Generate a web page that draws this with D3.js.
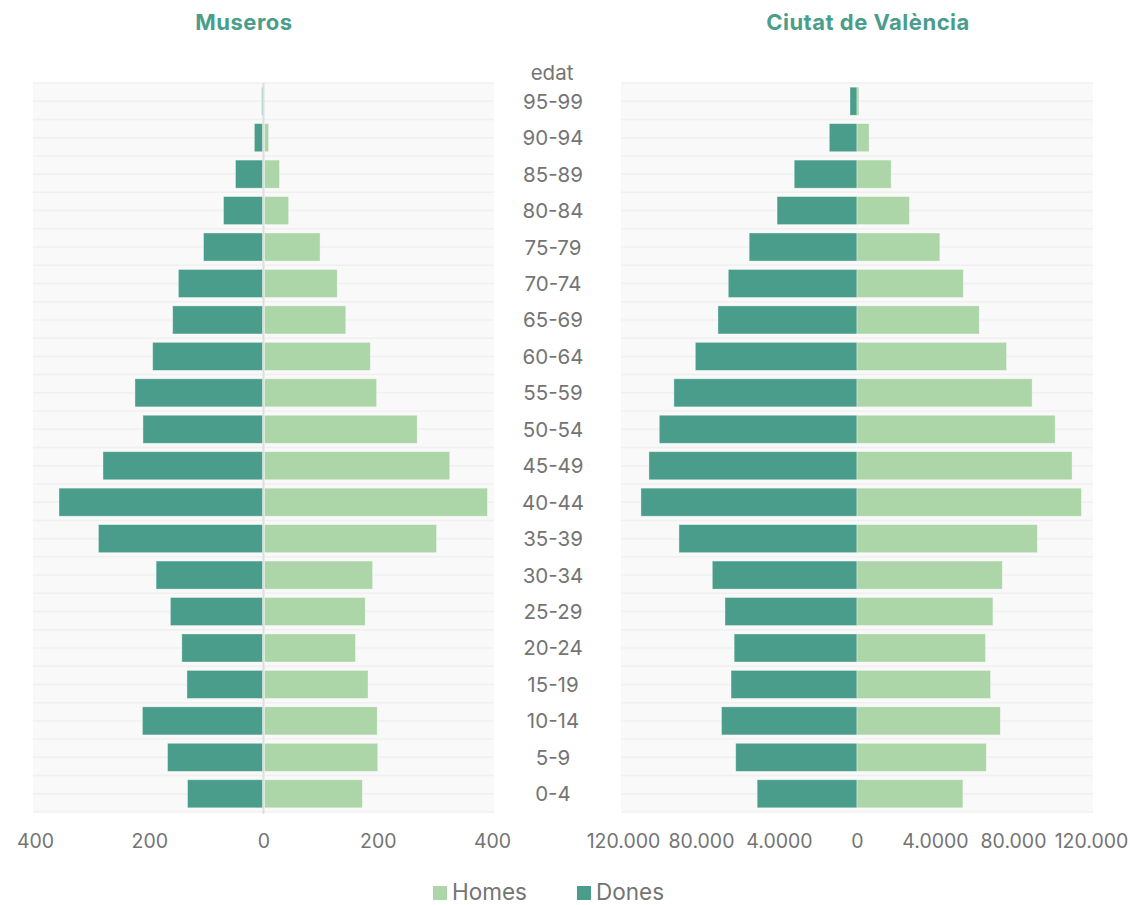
<!DOCTYPE html>
<html><head><meta charset="utf-8">
<script src="https://cdn.jsdelivr.net/npm/d3@7"></script>
<style>
body{margin:0;background:#fff;}
svg{display:block;font-family:Inter,"Open Sans",sans-serif;}
</style></head>
<body><svg id="chart" width="1130" height="905"></svg>
<script>
const ages = ["95-99","90-94","85-89","80-84","75-79","70-74","65-69","60-64","55-59","50-54","45-49","40-44","35-39","30-34","25-29","20-24","15-19","10-14","5-9","0-4"];
const musHomes = [1,9,28,44,99,129,144,187,198,269,326,392,303,191,178,161,183,199,200,173];
const musDones = [3,16,49,70,105,149,159,194,225,211,281,358,289,188,163,143,134,212,168,133];
const valHomes = [1000,6200,17500,26900,42500,54500,62700,76700,89800,101600,110300,115100,92500,74500,69700,65900,68500,73500,66300,54300];
const valDones = [3600,14200,32200,41000,55300,66000,71300,82900,93900,101400,106700,110800,91300,74200,67700,63000,64600,69500,62200,51200];
const musTicks = [-400,-200,0,200,400];
const musTickLabels = ["400","200","0","200","400"];
const valTicks = [-120000,-80000,-40000,0,40000,80000,120000];
const valTickLabels = ["120.000","80.000","4.0000","0","4.0000","80.000","120.000"];
const seriesNames = ["Homes","Dones"];
const titles = ["Museros","Ciutat de València"];

(function(){
const C_DONES = "#4a9d8a", C_HOMES = "#acd5a8";
const TXT = "#747474";
const svg = d3.select("#chart");
const plotTop = 83, plotBottom = 812;
const y = d3.scaleBand().domain(ages).range([plotTop, plotBottom]).paddingInner(0.23).paddingOuter(0.115);
const yRow = d3.scaleBand().domain(ages).range([plotTop, plotBottom]);

function panel(x0, x1, domainMax, homes, dones, ticks, tickLabels, title, titleX, centerLine) {
  const x = d3.scaleLinear().domain([-domainMax, domainMax]).range([x0, x1]);
  const g = svg.append("g");
  g.append("rect").attr("x", x0 - 2).attr("y", plotTop).attr("width", x1 - x0 + 4).attr("height", plotBottom - plotTop).attr("fill", "#f9f9f9");
  const lines = [];
  ages.forEach(a => { lines.push(yRow(a)); lines.push(yRow(a) + yRow.bandwidth() / 2); });
  lines.push(plotBottom);
  g.selectAll("line.grid").data(lines).join("line").attr("class", "grid")
    .attr("x1", x0 - 2).attr("x2", x1 + 2).attr("y1", d => d).attr("y2", d => d)
    .attr("stroke", "#f0f0f0").attr("stroke-width", 1.5);
  if (centerLine) {
    g.append("line").attr("x1", x(0)).attr("x2", x(0)).attr("y1", plotTop).attr("y2", plotBottom + 2)
      .attr("stroke", "#dedede").attr("stroke-width", 2);
  }
  const gap = centerLine ? 1 : 0;
  g.selectAll("rect.d").data(ages).join("rect").attr("class", "d")
    .attr("x", (a, i) => x(-dones[i])).attr("width", (a, i) => Math.max(0, x(0) - x(-dones[i]) - gap))
    .attr("y", a => y(a)).attr("height", y.bandwidth())
    .attr("fill", C_DONES).attr("stroke", "#fff").attr("stroke-opacity", 0.45).attr("stroke-width", 0.8);
  g.selectAll("rect.h").data(ages).join("rect").attr("class", "h")
    .attr("x", x(0) + gap).attr("width", (a, i) => Math.max(0, x(homes[i]) - x(0) - gap))
    .attr("y", a => y(a)).attr("height", y.bandwidth())
    .attr("fill", C_HOMES).attr("stroke", "#fff").attr("stroke-opacity", 0.45).attr("stroke-width", 0.8);
  const ax = g.append("g").attr("transform", `translate(0,${plotBottom + 22})`)
    .call(d3.axisBottom(x).tickValues(ticks).tickFormat((d, i) => tickLabels[i]).tickSize(0).tickPadding(0));
  ax.select(".domain").remove();
  ax.selectAll("text").attr("fill", TXT).attr("font-size", 19.5).attr("font-family", "Inter, sans-serif").attr("dy", "0.71em");
  svg.append("text").attr("x", titleX).attr("y", 30).attr("text-anchor", "middle")
    .attr("fill", "#4a9d8a").attr("font-weight", 700).attr("font-size", 22).attr("letter-spacing", 0.5).text(title);
}

panel(35, 492, 400, musHomes, musDones, musTicks, musTickLabels, titles[0], 244, true);
panel(623, 1091, 120000, valHomes, valDones, valTicks, valTickLabels, titles[1], 868, false);

// centre age labels
svg.append("text").attr("x", 552).attr("y", 72).attr("text-anchor", "middle").attr("dominant-baseline", "central")
  .attr("fill", TXT).attr("font-size", 20.5).text("edat");
svg.selectAll("text.age").data(ages).join("text").attr("class", "age")
  .attr("x", 553).attr("y", a => yRow(a) + yRow.bandwidth() / 2).attr("text-anchor", "middle").attr("dominant-baseline", "central")
  .attr("fill", TXT).attr("font-size", 20.5).text(d => d);

// legend
const legend = svg.append("g");
const lx = [433, 577];
seriesNames.forEach((n, i) => {
  legend.append("rect").attr("x", lx[i]).attr("y", 886).attr("width", 14).attr("height", 14).attr("fill", i === 0 ? C_HOMES : C_DONES);
  legend.append("text").attr("x", lx[i] + 19).attr("y", 899.5)
    .attr("fill", TXT).attr("font-size", 22.5).text(n);
});
})();
</script></body></html>
